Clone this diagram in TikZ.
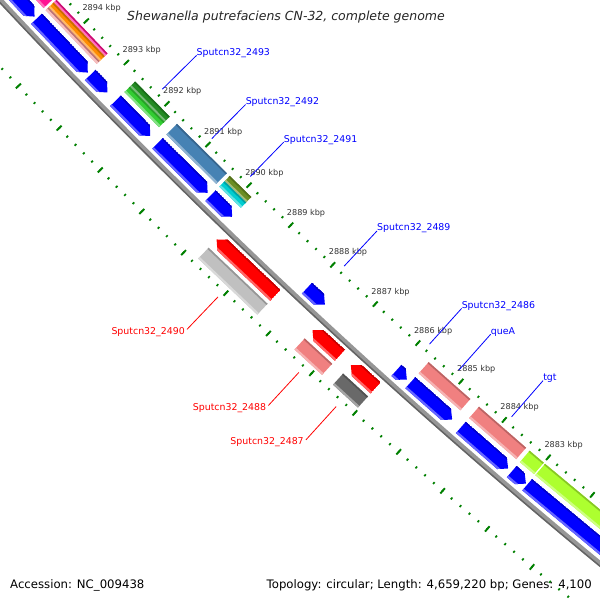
\documentclass[tikz,border=0pt]{standalone}
\usepackage{fontspec}
\setmainfont{DejaVu Sans}
\definecolor{cdsblue}{RGB}{0,0,255}
\definecolor{cdsred}{RGB}{255,0,0}
\definecolor{tickgreen}{RGB}{0,128,0}
\definecolor{bbgray}{RGB}{150,150,150}
\definecolor{bbdark}{RGB}{100,100,100}
\definecolor{cogpink}{RGB}{255,20,147}
\definecolor{cogorange}{RGB}{255,140,0}
\definecolor{cogsalmon}{RGB}{240,150,150}
\definecolor{cogdkgreen}{RGB}{34,139,34}
\definecolor{coglime}{RGB}{50,205,50}
\definecolor{cogsteel}{RGB}{70,130,180}
\definecolor{cogolive}{RGB}{107,142,35}
\definecolor{cogcyan}{RGB}{0,206,209}
\definecolor{cogcoral}{RGB}{240,128,128}
\definecolor{cogyellow}{RGB}{173,255,47}
\definecolor{cogsilver}{RGB}{192,192,192}
\definecolor{cogdim}{RGB}{105,105,105}
% angle of a map position (kbp)
\newcommand\gph[1]{224.263+(2893-(#1))*0.5257}
% shaded bar: from kbp, to kbp, inner radius, outer radius, colour
\newcommand\cogbar[5]{%
  \fill[#5] ({\gph{#1}}:#3) -- ({\gph{#2}}:#3) -- ({\gph{#2}}:#4) -- ({\gph{#1}}:#4) -- cycle;
  \fill[#5!78!black] ({\gph{#1}}:#3) -- ({\gph{#2}}:#3) -- ({\gph{#2}}:{#3+1.6}) -- ({\gph{#1}}:{#3+1.6}) -- cycle;
  \fill[#5!60!white] ({\gph{#1}}:{#4-2.2}) -- ({\gph{#2}}:{#4-2.2}) -- ({\gph{#2}}:#4) -- ({\gph{#1}}:#4) -- cycle;}
% forward gene: start, tip
\newcommand\fwdgene[2]{%
  \begin{scope}
    \clip ({\gph{#1}}:6327) -- ({\gph{#2+0.14}}:6327) -- ({\gph{#2}}:6334.5)
      -- ({\gph{#2+0.14}}:6342) -- ({\gph{#1}}:6342) -- cycle;
    \cogbar{#1}{#2}{6327}{6342}{cdsblue}
  \end{scope}}
% reverse gene: tip, end
\newcommand\revgene[2]{%
  \begin{scope}
    \clip ({\gph{#1}}:6361.5) -- ({\gph{#1-0.14}}:6354) -- ({\gph{#2}}:6354)
      -- ({\gph{#2}}:6369) -- ({\gph{#1-0.14}}:6369) -- cycle;
    \cogbar{#1}{#2}{6354}{6369}{cdsred}
  \end{scope}}
\begin{document}
\begin{tikzpicture}[x=1pt,y=1pt,
  mintick/.style={tickgreen,line width=1.7pt},
  majtick/.style={tickgreen,line width=1.9pt},
  kbplab/.style={anchor=base west,inner sep=0pt,text=black!80,font=\fontsize{8.1}{9}\selectfont},
  fwdlab/.style={anchor=base west,inner sep=0pt,text=cdsblue,font=\fontsize{9.4}{11}\selectfont},
  revlab/.style={anchor=base east,inner sep=0pt,text=cdsred,font=\fontsize{9.4}{11}\selectfont},
  fwdline/.style={draw=cdsblue,line width=0.8pt},
  revline/.style={draw=cdsred,line width=0.8pt}]
\useasboundingbox (0,0) rectangle (600,600);
\fill[white] (0,0) rectangle (600,600);
\begin{scope}
\clip (0,0) rectangle (600,600);
\begin{scope}[shift={(4637.9,4934.3)}]
% tick rings
\foreach \n in {0,...,85}{
  \draw[mintick] ({\gph{2897-0.2*\n}}:6298.8) -- ({\gph{2897-0.2*\n}}:6301.2);
  \draw[mintick] ({\gph{2897-0.2*\n}}:6392.8) -- ({\gph{2897-0.2*\n}}:6395.2);}
\foreach \k in {2880,...,2897}{
  \draw[majtick] ({\gph{\k}}:6296.5) -- ({\gph{\k}}:6303.5);
  \draw[majtick] ({\gph{\k}}:6390.5) -- ({\gph{\k}}:6397.5);}
\foreach \k in {2883,...,2894}
  \node[kbplab,xshift=-4pt,yshift=10pt] (kb\k) at ({\gph{\k}}:6300) {\k\ kbp};
% backbone
\draw[bbgray,line width=5pt] ({\gph{2897}}:6348) arc[start angle={\gph{2897}},end angle={\gph{2880}},radius=6348];
\draw[bbdark,line width=1.5pt] ({\gph{2897}}:6350) arc[start angle={\gph{2897}},end angle={\gph{2880}},radius=6350];
% forward strand
\fwdgene{2896.5}{2894.67}
\fwdgene{2894.62}{2893.34}
\fwdgene{2893.28}{2892.86}
\fwdgene{2892.66}{2891.81}
\fwdgene{2891.63}{2890.42}
\fwdgene{2890.35}{2889.83}
\fwdgene{2888.05}{2887.63}
\fwdgene{2885.96}{2885.72}
\fwdgene{2885.64}{2884.68}
\fwdgene{2884.48}{2883.40}
\fwdgene{2883.32}{2883.00}
\fwdgene{2882.97}{2880.00}
\cogbar{2896.5}{2894.67}{6307}{6322}{cogpink}
\cogbar{2894.62}{2893.34}{6307}{6311}{cogpink}
\cogbar{2894.62}{2893.34}{6311}{6318}{cogorange}
\cogbar{2894.62}{2893.34}{6318}{6322}{cogsalmon}
\cogbar{2892.66}{2891.81}{6307}{6314.5}{cogdkgreen}
\cogbar{2892.66}{2891.81}{6314.5}{6322}{coglime}
\cogbar{2891.63}{2890.42}{6307}{6322}{cogsteel}
\cogbar{2890.35}{2889.83}{6307}{6314.5}{cogolive}
\cogbar{2890.35}{2889.83}{6314.5}{6322}{cogcyan}
\cogbar{2885.64}{2884.68}{6307}{6322}{cogcoral}
\cogbar{2884.48}{2883.40}{6307}{6322}{cogcoral}
\cogbar{2883.32}{2883.00}{6307}{6322}{cogyellow}
\cogbar{2882.97}{2880.00}{6307}{6322}{cogyellow}
% reverse strand
\revgene{2889.75}{2888.36}
\revgene{2887.49}{2886.85}
\revgene{2886.60}{2886.02}
\cogbar{2889.75}{2888.36}{6373}{6388}{cogsilver}
\cogbar{2887.49}{2886.85}{6373}{6388}{cogcoral}
\cogbar{2886.60}{2886.02}{6373}{6388}{cogdim}
% gene labels
\foreach \k/\n/\t in {2892.235/s2493/Sputcn32\_2493, 2891.025/s2492/Sputcn32\_2492,
    2890.09/s2491/Sputcn32\_2491, 2887.84/s2489/Sputcn32\_2489,
    2885.84/s2486/Sputcn32\_2486, 2885.16/queA/queA, 2883.94/tgt/tgt}{
  \coordinate (\n a) at ({\gph{\k}}:6293);
  \coordinate (\n b) at ({\gph{\k}}:6245);
  \path[fwdline] (\n a) -- (\n b);
  \node[fwdlab] (\n) at (\n b) {\t};}
\foreach \k/\n/\t in {2889.055/s2490/Sputcn32\_2490, 2887.17/s2488/Sputcn32\_2488,
    2886.31/s2487/Sputcn32\_2487}{
  \coordinate (\n a) at ({\gph{\k}}:6402);
  \coordinate (\n b) at ({\gph{\k}}:6447);
  \path[revline] (\n a) -- (\n b);
  \node[revlab,xshift=-2pt,yshift=-5pt] (\n) at (\n b) {\t};}
\end{scope}
\end{scope}
\node[anchor=base west,inner sep=0pt,text=black!85,font=\fontsize{12.5}{15}\selectfont\itshape] (title) at (127,579) {Shewanella putrefaciens CN-32, complete genome};
\node[anchor=base west,inner sep=0pt,font=\fontsize{11.7}{14}\selectfont] (acc) at (10,12) {Accession: NC\_009438};
\node[anchor=base east,inner sep=0pt,font=\fontsize{11.7}{14}\selectfont] (topo) at (592,12) {Topology: circular; Length: 4,659,220 bp; Genes: 4,100};
\end{tikzpicture}
\end{document}
